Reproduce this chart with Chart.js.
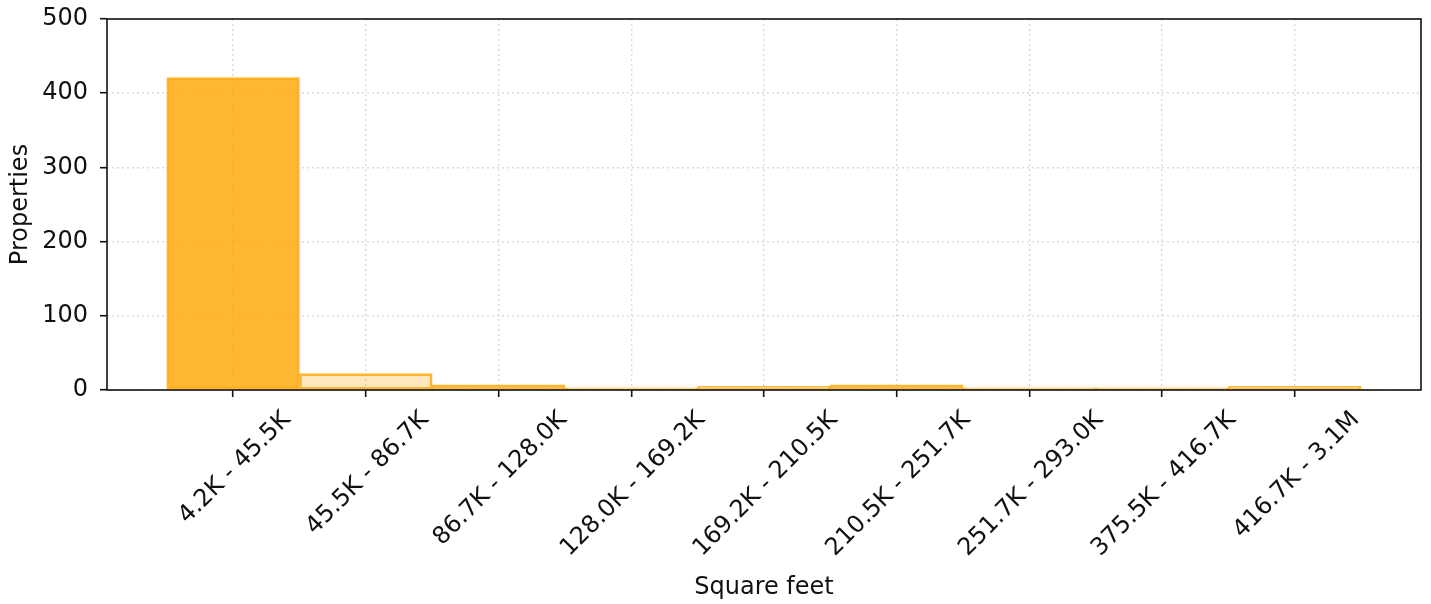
<!DOCTYPE html>
<html lang="en">
<head>
  <meta charset="UTF-8">
  <title>Square feet histogram</title>
  <script src="https://cdn.jsdelivr.net/npm/chart.js"></script>
  <style>
    body { margin: 0; background: #fff; }
    #wrap { width: 1431px; height: 604px; }
  </style>
</head>
<body>
  <div id="wrap"><canvas id="sqftChart"></canvas></div>

  <script>
    // bins (empty bins already dropped) and counts
    const binLabels = ['4.2K - 45.5K', '45.5K - 86.7K', '86.7K - 128.0K', '128.0K - 169.2K',
      '169.2K - 210.5K', '210.5K - 251.7K', '251.7K - 293.0K', '375.5K - 416.7K', '416.7K - 3.1M'];
    const propertyCounts = [421, 22, 7, 3, 5, 7, 3, 3, 5];
    const yTickValues = [0, 100, 200, 300, 400, 500];
    const highlightBin = 0;

    const FONT = '"DejaVu Sans", sans-serif';
    Chart.defaults.font.family = FONT;
    Chart.defaults.font.size = 24;
    Chart.defaults.color = '#111';

    // matplotlib-style rotated labels, centred on the tick
    const rotatedLabels = {
      id: 'rotatedLabels',
      afterDraw(chart) {
        const ctx = chart.ctx;
        const xs = chart.scales.x;
        const capH = 24 * 0.73;
        const top = chart.chartArea.bottom + 18;
        ctx.save();
        ctx.font = '24px ' + FONT;
        ctx.fillStyle = '#111';
        ctx.textAlign = 'center';
        ctx.textBaseline = 'alphabetic';
        binLabels.forEach((txt, i) => {
          const w = ctx.measureText(txt).width;
          const cx = xs.getPixelForValue(i);
          const cy = top + (w + capH) * 0.3536;
          ctx.save();
          ctx.translate(cx + capH * 0.3536, cy + capH * 0.3536);
          ctx.rotate(-Math.PI / 4);
          ctx.fillText(txt, 0, 0);
          ctx.restore();
        });
        ctx.restore();
      }
    };

    // full black frame round the plot
    const frame = {
      id: 'frame',
      afterDraw(chart) {
        const {left, top, right, bottom} = chart.chartArea;
        const ctx = chart.ctx;
        ctx.save();
        ctx.strokeStyle = '#111';
        ctx.lineWidth = 1.6;
        ctx.strokeRect(left, top, right - left, bottom - top);
        ctx.restore();
      }
    };

    const gridStyle = {
      color: '#dadada',
      lineWidth: 1.4,
      offset: false,
      tickColor: '#111',
      tickLength: 7,
      tickWidth: 1.6,
      tickBorderDash: []
    };

    new Chart(document.getElementById('sqftChart'), {
      type: 'bar',
      data: {
        datasets: [{
          data: propertyCounts.map((v, i) => ({x: i, y: v})),
          backgroundColor: ctx => ctx.dataIndex === highlightBin ? 'rgba(255,165,0,0.8)' : 'rgba(255,165,0,0.25)',
          borderColor: 'rgba(255,165,0,0.8)',
          borderWidth: 2,
          borderSkipped: false,
          barPercentage: 1,
          categoryPercentage: 1
        }]
      },
      options: {
        responsive: true,
        maintainAspectRatio: false,
        animation: false,
        layout: { padding: { left: 0, right: 10, top: 19, bottom: 1.6 } },
        plugins: { legend: { display: false }, tooltip: { enabled: false } },
        scales: {
          x: {
            type: 'linear',
            min: -0.95,
            max: 8.95,
            offset: false,
            z: 1,
            afterBuildTicks: axis => { axis.ticks = binLabels.map((_, i) => ({value: i})); },
            ticks: { display: false },
            grid: gridStyle,
            border: { display: false, dash: [2, 3] },
            title: { display: true, text: 'Square feet', padding: { top: 176.6, bottom: 0 } }
          },
          y: {
            min: 0,
            max: 500,
            z: 1,
            afterBuildTicks: axis => { axis.ticks = yTickValues.map(v => ({value: v})); },
            afterFit: axis => { axis.width = 107; axis.paddingTop = 0; axis.paddingBottom = 0; },
            ticks: { padding: 12 },
            grid: gridStyle,
            border: { display: false, dash: [2, 3] },
            title: { display: true, text: 'Properties', padding: { top: 6.6, bottom: 0 } }
          }
        }
      },
      plugins: [rotatedLabels, frame]
    });
  </script>
</body>
</html>
